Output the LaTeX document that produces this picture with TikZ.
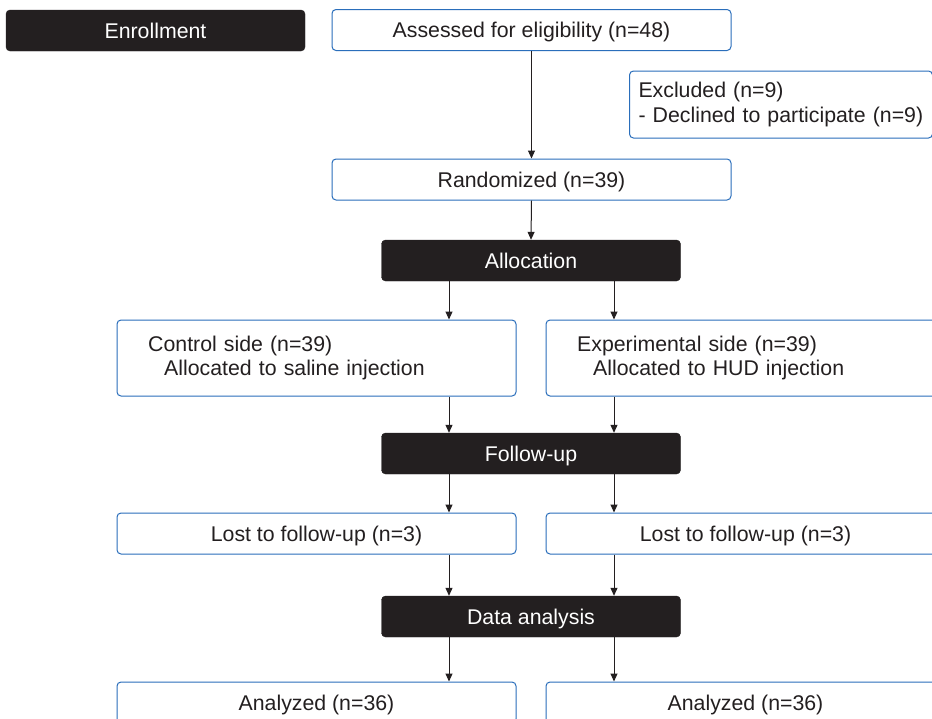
\documentclass[tikz,border=0pt]{standalone}
\usepackage{fontspec}
\setmainfont{Liberation Sans}
\usetikzlibrary{arrows.meta}
\definecolor{boxblack}{HTML}{231F20}
\definecolor{boxblue}{HTML}{2A6EBB}
\begin{document}
\begin{tikzpicture}[x=1pt,y=-1pt,
  txt/.style={font=\fontsize{21.3}{24.5}\selectfont, text=boxblack},
  onel/.style={text height=15pt, text depth=0pt},
  darkbox/.style={txt, onel, fill=boxblack, draw=boxblack, text=white, rounded corners=4pt,
    minimum width=299pt, minimum height=41pt, inner sep=0pt},
  bluebox/.style={txt, onel, draw=boxblue, line width=1pt, fill=white, rounded corners=4pt,
    minimum width=399pt, minimum height=41pt, inner sep=0pt},
  arr/.style={draw=boxblack, line width=1pt, -{Triangle[length=8pt,width=7pt]}}]
\useasboundingbox (0,0) rectangle (932,718);
\clip (0,0) rectangle (932,718);
\fill[white] (0,0) rectangle (932,718);
\node[darkbox] (enroll) at (155.5,30.5) {Enrollment};
\node[bluebox] (assess) at (531.5,30) {Assessed for eligibility (n=48)};
\node[bluebox, text height=, text depth=, minimum width=298pt, minimum height=67pt, text width=285pt, align=left,
  inner xsep=9pt] (excl) at (781,104.5) {Excluded (n=9)\\- Declined to participate (n=9)};
\node[bluebox] (rand) at (531.5,179.5) {Randomized (n=39)};
\node[darkbox] (alloc) at (531,260.5) {Allocation};
\node[bluebox, minimum height=76pt] (ctrl) at (316.5,358) {};
\node[txt, text width=360pt, align=left, inner sep=0pt, anchor=west] (ctrltext) at (148,358) {Control side (n=39)\\\hspace*{16pt}Allocated to saline injection};
\node[bluebox, minimum height=76pt] (expt) at (745.5,358) {};
\node[txt, text width=360pt, align=left, inner sep=0pt, anchor=west] (expttext) at (577,358) {Experimental side (n=39)\\\hspace*{16pt}Allocated to HUD injection};
\node[darkbox] (fu) at (531,453.5) {Follow-up};
\node[bluebox] (lostL) at (316.5,533.5) {Lost to follow-up (n=3)};
\node[bluebox] (lostR) at (745.5,533.5) {Lost to follow-up (n=3)};
\node[darkbox] (da) at (531,616.5) {Data analysis};
\node[bluebox] (anL) at (316.5,702.5) {Analyzed (n=36)};
\node[bluebox] (anR) at (745.5,702.5) {Analyzed (n=36)};
\draw[arr] (assess.south) -- (rand.north);
\draw[arr] (rand.south) -- (alloc.north);
\foreach \a/\b/\c in {alloc/ctrl/expt, fu/lostL/lostR, da/anL/anR}{
  \draw[arr] ([xshift=-82pt]\a.south) -- ([xshift=-82pt]\a.south |- \b.north);
  \draw[arr] ([xshift=83pt]\a.south) -- ([xshift=83pt]\a.south |- \c.north);
}
\draw[arr] ([xshift=-82pt]ctrl.south -| alloc.south) -- ([xshift=-82pt]fu.north);
\draw[arr] ([xshift=83pt]expt.south -| alloc.south) -- ([xshift=83pt]fu.north);
\draw[arr] ([xshift=-82pt]lostL.south -| fu.south) -- ([xshift=-82pt]da.north);
\draw[arr] ([xshift=83pt]lostR.south -| fu.south) -- ([xshift=83pt]da.north);
\end{tikzpicture}
\end{document}
